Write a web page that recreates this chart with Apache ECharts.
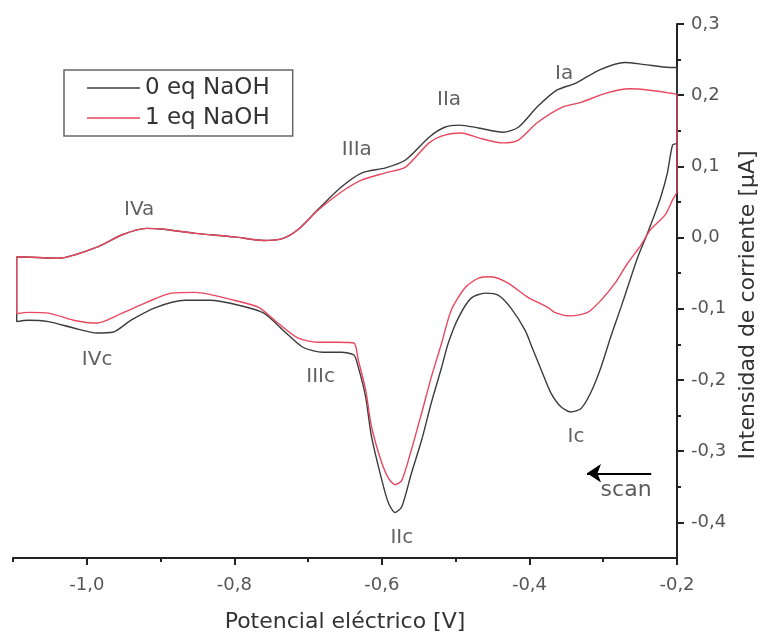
<!DOCTYPE html>
<html>
<head>
<meta charset="utf-8">
<script src="https://cdn.jsdelivr.net/npm/echarts@6/dist/echarts.min.js"></script>
<style>
  html, body { margin: 0; padding: 0; background: #fff; }
  #chart { width: 769px; height: 638px; }
</style>
</head>
<body>
<div id="chart"></div>
<script>
// potencial [V], intensidad [uA]  -- barrido anodico (izq -> der)
var anodic0 = [
  [-1.095, -0.027], [-1.038, -0.029], [-0.985, -0.013], [-0.952, 0.004], [-0.919, 0.013],
  [-0.899, 0.012], [-0.853, 0.006], [-0.800, 0.001], [-0.760, -0.004], [-0.734, -0.001],
  [-0.714, 0.011], [-0.687, 0.039], [-0.655, 0.071], [-0.627, 0.091], [-0.595, 0.098],
  [-0.568, 0.109], [-0.536, 0.141], [-0.515, 0.155], [-0.495, 0.158], [-0.469, 0.154],
  [-0.436, 0.148], [-0.415, 0.155], [-0.390, 0.183], [-0.363, 0.207], [-0.337, 0.217],
  [-0.304, 0.236], [-0.271, 0.246], [-0.244, 0.243], [-0.210, 0.239], [-0.200, 0.239]
];
// barrido catodico (der -> izq)
var cathodic0 = [
  [-0.200, 0.133], [-0.206, 0.130], [-0.213, 0.091], [-0.222, 0.057], [-0.233, 0.025],
  [-0.242, 0.001], [-0.253, -0.027], [-0.267, -0.070], [-0.276, -0.098], [-0.290, -0.140],
  [-0.303, -0.182], [-0.317, -0.218], [-0.330, -0.240], [-0.344, -0.245], [-0.357, -0.238],
  [-0.371, -0.218], [-0.384, -0.186], [-0.395, -0.158], [-0.406, -0.130], [-0.425, -0.099],
  [-0.442, -0.081], [-0.460, -0.078], [-0.479, -0.085], [-0.496, -0.112], [-0.510, -0.148],
  [-0.519, -0.182], [-0.533, -0.232], [-0.546, -0.284], [-0.560, -0.331], [-0.573, -0.378],
  [-0.582, -0.386], [-0.591, -0.373], [-0.600, -0.341], [-0.614, -0.280], [-0.622, -0.224],
  [-0.632, -0.182], [-0.638, -0.165], [-0.655, -0.161], [-0.680, -0.161], [-0.707, -0.154],
  [-0.734, -0.130], [-0.760, -0.106], [-0.794, -0.095], [-0.833, -0.088], [-0.867, -0.088],
  [-0.906, -0.098], [-0.940, -0.116], [-0.965, -0.133], [-0.986, -0.134], [-1.018, -0.127],
  [-1.052, -0.118], [-1.079, -0.116], [-1.095, -0.118]
];
var anodic1 = [
  [-1.095, -0.027], [-1.038, -0.029], [-0.985, -0.013], [-0.952, 0.004], [-0.919, 0.013],
  [-0.899, 0.012], [-0.853, 0.006], [-0.800, 0.001], [-0.760, -0.004], [-0.734, -0.001],
  [-0.714, 0.011], [-0.687, 0.038], [-0.655, 0.064], [-0.627, 0.081], [-0.595, 0.091],
  [-0.568, 0.099], [-0.536, 0.133], [-0.515, 0.144], [-0.492, 0.147], [-0.469, 0.140],
  [-0.436, 0.133], [-0.415, 0.137], [-0.390, 0.161], [-0.356, 0.183], [-0.330, 0.190],
  [-0.296, 0.203], [-0.264, 0.209], [-0.237, 0.207], [-0.210, 0.203], [-0.200, 0.200]
];
var cathodic1 = [
  [-0.200, 0.065], [-0.206, 0.053], [-0.216, 0.032], [-0.236, 0.011], [-0.249, -0.011],
  [-0.267, -0.036], [-0.284, -0.064], [-0.303, -0.088], [-0.321, -0.105], [-0.344, -0.110],
  [-0.366, -0.105], [-0.375, -0.098], [-0.402, -0.084], [-0.429, -0.064], [-0.452, -0.055],
  [-0.469, -0.057], [-0.487, -0.070], [-0.506, -0.102], [-0.519, -0.148], [-0.533, -0.196],
  [-0.546, -0.246], [-0.560, -0.298], [-0.573, -0.341], [-0.582, -0.347], [-0.591, -0.338],
  [-0.600, -0.317], [-0.614, -0.266], [-0.622, -0.214], [-0.632, -0.172], [-0.638, -0.148],
  [-0.661, -0.147], [-0.687, -0.147], [-0.714, -0.141], [-0.741, -0.120], [-0.767, -0.098],
  [-0.800, -0.088], [-0.853, -0.077], [-0.885, -0.078], [-0.919, -0.091], [-0.952, -0.106],
  [-0.986, -0.120], [-1.018, -0.116], [-1.052, -0.106], [-1.079, -0.105], [-1.095, -0.107]
];

var seriesNames = ['0 eq NaOH', '1 eq NaOH'];
var seriesColors = ['#3c3c3c', '#e8475e'];

// etiquetas de picos [potencial, intensidad, texto]
var peakLabels = [
  [-0.353, 0.230, 'Ia'], [-0.509, 0.193, 'IIa'], [-0.634, 0.123, 'IIIa'], [-0.929, 0.039, 'IVa'],
  [-0.986, -0.172, 'IVc'], [-0.683, -0.196, 'IIIc'], [-0.573, -0.422, 'IIc'], [-0.337, -0.280, 'Ic']
];
var scanText = [[-0.269, -0.355, 'scan']];
var scanArrow = [[-0.235, -0.331], [-0.322, -0.331]];

var xMajor = [-1.0, -0.8, -0.6, -0.4, -0.2];
var xMinor = [-1.1, -0.9, -0.7, -0.5, -0.3];
var yMajor = [-0.4, -0.3, -0.2, -0.1, 0.0, 0.1, 0.2, 0.3];
var yMinor = [-0.35, -0.25, -0.15, -0.05, 0.05, 0.15, 0.25];

function loop(a, c) {
  return a.concat(c).concat([a[0]]);
}
function comma(v) {
  return v.toFixed(1).replace('.', ',');
}
function third(p) {
  return p.data[2];
}

var font = 'DejaVu Sans';
var chart = echarts.init(document.getElementById('chart'));
var option = {
  animation: false,
  backgroundColor: '#fff',
  grid: { left: 13, right: 92, top: 24, bottom: 80 },
  legend: {
    data: seriesNames,
    orient: 'vertical',
    left: 64, top: 70,
    padding: [6, 23, 6, 23],
    icon: 'rect',
    itemWidth: 53, itemHeight: 1.5, itemGap: 6,
    borderColor: '#666', borderWidth: 1.5,
    textStyle: { fontFamily: font, fontSize: 23, color: '#333', lineHeight: 24 }
  },
  xAxis: [
    {
      type: 'value', min: -1.1, max: -0.2, interval: 0.1,
      name: 'Potencial eléctrico [V]', nameLocation: 'middle', nameGap: 53,
      nameTextStyle: { fontFamily: font, fontSize: 22, color: '#333' },
      axisLine: { onZero: false, lineStyle: { color: '#222', width: 2 } },
      axisTick: { customValues: xMajor, length: 7, lineStyle: { color: '#222', width: 2 } },
      axisLabel: { customValues: xMajor, formatter: comma, margin: 18,
        fontFamily: font, fontSize: 18, color: '#555' },
      splitLine: { show: false }
    },
    {
      type: 'value', min: -1.1, max: -0.2, interval: 0.1, position: 'bottom',
      axisLine: { show: false, onZero: false },
      axisTick: { show: true, customValues: xMinor, length: 4, lineStyle: { color: '#222', width: 2 } },
      axisLabel: { show: false },
      splitLine: { show: false }
    }
  ],
  yAxis: [
    {
      type: 'value', min: -0.45, max: 0.3, interval: 0.05, position: 'right',
      name: 'Intensidad de corriente [µA]', nameLocation: 'middle', nameRotate: 90, nameGap: 56,
      nameTextStyle: { fontFamily: font, fontSize: 22, color: '#333', padding: [0, 28, 0, 0] },
      axisLine: { show: true, onZero: false, lineStyle: { color: '#222', width: 2 } },
      axisTick: { show: true, customValues: yMajor, length: 7, lineStyle: { color: '#222', width: 2 } },
      axisLabel: { customValues: yMajor, formatter: comma, margin: 14,
        fontFamily: font, fontSize: 18, color: '#555' },
      splitLine: { show: false }
    },
    {
      type: 'value', min: -0.45, max: 0.3, interval: 0.05, position: 'right',
      axisLine: { show: false, onZero: false },
      axisTick: { show: true, customValues: yMinor, length: 4, lineStyle: { color: '#222', width: 2 } },
      axisLabel: { show: false },
      splitLine: { show: false }
    }
  ],
  series: [
    {
      name: seriesNames[0], type: 'line', data: loop(anodic0, cathodic0),
      showSymbol: false, symbol: 'none', smooth: 0.25, color: seriesColors[0],
      lineStyle: { width: 1.4, color: seriesColors[0] }
    },
    {
      name: seriesNames[1], type: 'line', data: loop(anodic1, cathodic1),
      showSymbol: false, symbol: 'none', smooth: 0.25, color: seriesColors[1],
      lineStyle: { width: 1.4, color: seriesColors[1] }
    },
    {
      name: 'picos', type: 'scatter', data: peakLabels, symbolSize: 0, silent: true,
      label: {
        show: true, position: 'inside', color: '#3a3a3a', fontFamily: font, fontSize: 20,
        formatter: third
      }
    },
    {
      name: 'scan', type: 'scatter', data: scanText, symbolSize: 0, silent: true,
      label: {
        show: true, position: 'inside', color: '#333', fontFamily: font, fontSize: 22,
        formatter: third
      },
      markLine: {
        silent: true, symbol: ['none', 'arrow'], symbolSize: 14,
        lineStyle: { color: '#000', width: 2, type: 'solid' },
        label: { show: false },
        data: [[{ coord: scanArrow[0] }, { coord: scanArrow[1] }]]
      }
    }
  ]
};
chart.setOption(option);
</script>
</body>
</html>
